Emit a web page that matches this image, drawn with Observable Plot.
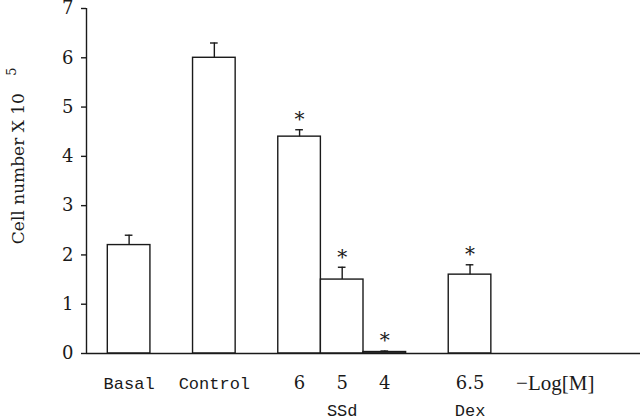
<!DOCTYPE html>
<html><head><meta charset="utf-8">
<script src="https://cdn.jsdelivr.net/npm/d3@7"></script>
<script src="https://cdn.jsdelivr.net/npm/@observablehq/plot@0.6"></script>
<style>body{margin:0;background:#fff}</style>
</head><body><div id="chart"></div>
<script>
const categories = ["Basal", "Control", "6", "5", "4", "6.5"];
const slots = [0, 2, 4, 5, 6, 8];
const values = [2.2, 6.0, 4.4, 1.5, 0.03, 1.6];
const errors = [0.2, 0.3, 0.14, 0.25, 0.02, 0.2];
const significant = [false, false, true, true, true, true];
const groupLabels = ["SSd", "Dex"];
const groupSlots = [5, 8];
const unitLabel = "−Log[M]";
const unitSlot = 10;
const yTicks = [0, 1, 2, 3, 4, 5, 6, 7];
const yLabel = "Cell number X 10";
const yLabelExp = "5";
const yLabelPos = 3.75;

const data = categories.map((c, i) => ({c, s: slots[i], v: values[i], e: errors[i], sig: significant[i]}));
const groups = groupLabels.map((g, i) => ({g, s: groupSlots[i]}));
const isWord = d => isNaN(+d.c);
const ink = "#1a1a1a";
const serif = "DejaVu Serif";
const mono = "Liberation Mono";

const chart = Plot.plot({
  width: 640,
  height: 420,
  marginLeft: 86,
  marginRight: 0,
  marginTop: 8,
  marginBottom: 67,
  style: {fontFamily: serif, background: "#fff", color: ink},
  x: {domain: [-1, 12], axis: null},
  y: {domain: [0, 7]},
  marks: [
    Plot.axisY({ticks: yTicks, tickFormat: d3.format("d"), tickSize: 5, tickPadding: 8, fontSize: 18, fontFamily: serif, strokeWidth: 1.4, label: null}),
    Plot.rectY(data, {x1: d => d.s - 0.5, x2: d => d.s + 0.5, y1: 0, y2: "v", fill: "white", stroke: ink, strokeWidth: 1.4}),
    Plot.ruleX(data, {x: "s", y1: "v", y2: d => d.v + d.e, stroke: ink, strokeWidth: 1.4}),
    Plot.ruleY(data, {y: d => d.v + d.e, x1: d => d.s - 0.09, x2: d => d.s + 0.09, stroke: ink, strokeWidth: 1.4}),
    Plot.text(data.filter(d => d.sig), {x: "s", y: d => d.v + d.e, text: () => "*", dy: -10, fontSize: 20, fontFamily: serif, fill: ink}),
    Plot.ruleX([-1], {stroke: ink, strokeWidth: 1.4}),
    Plot.ruleY([0], {stroke: ink, strokeWidth: 1.6}),
    Plot.text(data.filter(isWord), {x: "s", y: 0, text: "c", dy: 30, fontSize: 17, fontFamily: mono, fill: ink}),
    Plot.text(data.filter(d => !isWord(d)), {x: "s", y: 0, text: "c", dy: 30, fontSize: 18, fontFamily: serif, fill: ink}),
    Plot.text(groups, {x: "s", y: 0, text: "g", dy: 57, fontSize: 17, fontFamily: mono, fill: ink}),
    Plot.text([unitLabel], {x: unitSlot, y: 0, text: d => d, dy: 30, fontSize: 21, fontFamily: "Liberation Serif", fill: ink}),
    Plot.text([yLabel], {x: () => -1, y: () => yLabelPos, text: d => d, rotate: -90, textAnchor: "middle", dx: -68, fontSize: 17, fontFamily: serif, fill: ink}),
    Plot.text([yLabelExp], {x: () => -1, y: () => yLabelPos, text: d => d, rotate: -90, textAnchor: "middle", dx: -75, dy: -97, fontSize: 13, fontFamily: serif, fill: ink})
  ]
});
document.getElementById("chart").appendChild(chart);
</script>
</body></html>
